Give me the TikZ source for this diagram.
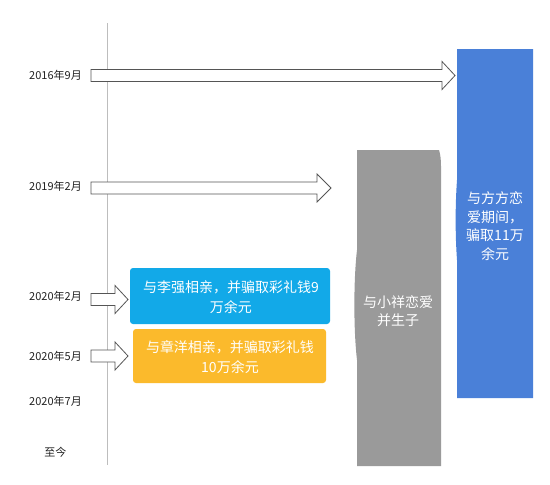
\documentclass[tikz,border=0pt]{standalone}
\usepackage{fontspec}
\setmainfont{Noto Sans CJK SC}
\definecolor{bluebar}{HTML}{4A80D8}
\definecolor{graybar}{HTML}{9A9A9A}
\definecolor{cyanbox}{HTML}{12A9E8}
\definecolor{yellowbox}{HTML}{FBBA2C}
\definecolor{arrline}{HTML}{555555}
\definecolor{axisline}{HTML}{BDBDBD}
\definecolor{labeltext}{HTML}{222222}
\tikzset{
  datelabel/.style={font=\fontsize{11}{13}\selectfont, text=labeltext, anchor=center},
  boxtext/.style={font=\fontsize{14}{20}\selectfont, text=white, align=center},
  bartext/.style={font=\fontsize{14}{18.5}\selectfont, text=white, align=center},
  blockarr/.style={draw=arrline, fill=white, line width=0.8pt, line join=miter},
}
% #1 left x, #2 head start x, #3 tip x, #4 centre y
\newcommand\mybarrow[4]{%
  \draw[blockarr] (#1,#4-6) -- (#2,#4-6) -- (#2,#4-14) -- (#3,#4) -- (#2,#4+14) -- (#2,#4+6) -- (#1,#4+6) -- cycle;}
\begin{document}
\begin{tikzpicture}[x=1pt,y=-1pt]
\useasboundingbox (0,0) rectangle (550,485);
\fill[white] (0,0) rectangle (550,485);
% axis
\coordinate (axtop) at (107,23);
\coordinate (axbot) at (107,465);
\draw[axisline, line width=1pt] (axtop) -- (axbot);
% bars
\fill[bluebar] (457,49) -- (533,49) -- (533,398) -- (457,398)
  -- (457,260) .. controls (455.2,235) and (455.2,205) .. (457,180) -- cycle;
\fill[graybar] (357,150) -- (439,150) .. controls (440.5,155) and (441,160) .. (441,166) -- (441,466) -- (357,466)
  -- (357,360) .. controls (353.5,330) and (353.5,280) .. (357,250) -- cycle;
\node[bartext] (blue) at (495,226) {与方方恋\\爱期间，\\骗取11万\\余元};
\node[bartext] (gray) at (398,311) {与小祥恋爱\\并生子};
% coloured boxes
\fill[cyanbox, rounded corners=3pt] (130,268) rectangle (330,324);
\node[boxtext] (cyan) at (231,297.5) {与李强相亲，并骗取彩礼钱9\\万余元};
\fill[yellowbox, rounded corners=3pt] (133,329) rectangle (326,383);
\node[boxtext] (yellow) at (230,357) {与章洋相亲，并骗取彩礼钱\\10万余元};
% arrows
\mybarrow{91}{442}{455}{75.5}
\mybarrow{91}{317}{331}{188}
\mybarrow{91}{115}{128}{299.5}
\mybarrow{91}{115}{128}{356}
% date labels
\node[datelabel] (d1) at (55.5,75) {2016年9月};
\node[datelabel] (d2) at (55.5,186) {2019年2月};
\node[datelabel] (d3) at (55.5,296) {2020年2月};
\node[datelabel] (d4) at (55.5,356) {2020年5月};
\node[datelabel] (d5) at (55.5,401) {2020年7月};
\node[datelabel] (d6) at (55.5,452) {至今};
\end{tikzpicture}
\end{document}
